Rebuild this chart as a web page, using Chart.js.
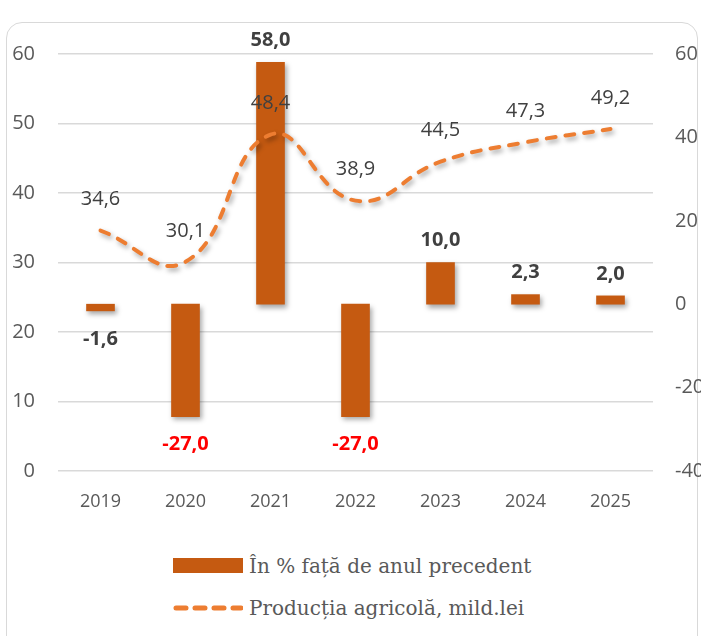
<!DOCTYPE html>
<html>
<head>
<meta charset="utf-8">
<script src="https://cdn.jsdelivr.net/npm/chart.js@4"></script>
<style>
    body { margin: 0; background: #fff; }
    .cadru {
        position: absolute; left: 6px; top: 22px; width: 692px; height: 700px;
        border: 1.5px solid #d9d9d9; border-radius: 16px; box-sizing: border-box;
    }
    #grafic { position: absolute; left: 0; top: 0; }
    .legenda {
        position: absolute; left: 173px; top: 545px;
        font-family: "DejaVu Serif", serif; font-size: 20px; color: #595959;
    }
    .legenda-item { display: flex; align-items: center; height: 42px; }
    .legenda-item svg { margin-right: 6px; }
</style>
</head>
<body>
<div class="cadru"></div>
<canvas id="grafic" width="701" height="520"></canvas>
<div class="legenda" id="legenda"></div>
<script>
const ani = ["2019", "2020", "2021", "2022", "2023", "2024", "2025"]
const procente = [-1.6, -27.0, 58.0, -27.0, 10.0, 2.3, 2.0]
const productie = [34.6, 30.1, 48.4, 38.9, 44.5, 47.3, 49.2]
const ticksStanga = [0, 10, 20, 30, 40, 50, 60]
const ticksDreapta = [-40, -20, 0, 20, 40, 60]

const culoareBara = "#C55A11"
const culoareLinie = "#ED7D31"

function formatare(v) {
    return v.toFixed(1).replace(".", ",")
}

// umbra sub bare si linie
const umbra = {
    id: "umbra",
    beforeDatasetDraw(chart) {
        const ctx = chart.ctx
        ctx.save()
        ctx.shadowColor = "rgba(0,0,0,0.35)"
        ctx.shadowBlur = 5
        ctx.shadowOffsetX = 2
        ctx.shadowOffsetY = 3
    },
    afterDatasetDraw(chart) {
        chart.ctx.restore()
    }
}

// etichetele valorilor
const etichete = {
    id: "etichete",
    afterDatasetsDraw(chart) {
        const ctx = chart.ctx
        ctx.save()
        ctx.textAlign = "center"
        ctx.textBaseline = "middle"

        const metaBare = chart.getDatasetMeta(0)
        ctx.font = "bold 20px 'Open Sans'"
        metaBare.data.forEach((bara, i) => {
            const v = procente[i]
            ctx.fillStyle = v < -10 ? "#FF0000" : "#404040"
            const y = v >= 0 ? bara.y - 22 : bara.y + 28
            ctx.fillText(formatare(v), bara.x, y)
        })

        const metaLinie = chart.getDatasetMeta(1)
        ctx.font = "20px 'Open Sans'"
        ctx.fillStyle = "#404040"
        metaLinie.data.forEach((punct, i) => {
            ctx.fillText(formatare(productie[i]), punct.x, punct.y - 31)
        })
        ctx.restore()
    }
}

const data = {
    labels: ani,
    datasets: [{
        type: "bar",
        label: "În % față de anul precedent",
        data: procente,
        backgroundColor: culoareBara,
        barThickness: 28,
        yAxisID: "yDreapta",
        order: 1
    }, {
        type: "line",
        label: "Producția agricolă, mild.lei",
        data: productie,
        borderColor: culoareLinie,
        borderWidth: 4,
        borderDash: [9, 10],
        borderCapStyle: "round",
        tension: 0.45,
        pointRadius: 0,
        yAxisID: "yStanga",
        order: 0
    }]
}

const config = {
    type: "bar",
    data: data,
    options: {
        responsive: false,
        animation: false,
        layout: { padding: { top: 54, left: 0, right: 0, bottom: 0 } },
        plugins: { legend: { display: false }, tooltip: { enabled: false } },
        scales: {
            x: {
                grid: { display: false },
                border: { display: false },
                ticks: { color: "#595959", font: { family: "'Open Sans'", size: 18 }, padding: 12 },
                afterFit(scale) { scale.height = 49 }
            },
            yStanga: {
                position: "left",
                min: 0,
                max: 60,
                afterBuildTicks(scale) { scale.ticks = ticksStanga.map(v => ({ value: v })) },
                grid: { color: "#d9d9d9", lineWidth: 1.5, drawTicks: false },
                border: { display: false },
                ticks: { color: "#595959", font: { family: "'Open Sans'", size: 20 }, padding: 23 },
                afterFit(scale) { scale.width = 58 }
            },
            yDreapta: {
                position: "right",
                min: -40,
                max: 60,
                afterBuildTicks(scale) { scale.ticks = ticksDreapta.map(v => ({ value: v })) },
                grid: { display: false, drawTicks: false },
                border: { display: false },
                ticks: { color: "#595959", font: { family: "'Open Sans'", size: 20 }, padding: 22 },
                afterFit(scale) { scale.width = 48 }
            }
        }
    },
    plugins: [umbra, etichete]
}

const grafic = new Chart(document.querySelector("#grafic"), config)

// legenda pe verticala, construita din seturile de date
const legenda = document.querySelector("#legenda")
for (const ds of [grafic.data.datasets[0], grafic.data.datasets[1]]) {
    const item = document.createElement("div")
    item.className = "legenda-item"
    let simbol
    if (ds.type === "bar") {
        simbol = `<svg width="70" height="16"><rect x="0" y="0" width="70" height="15" fill="${ds.backgroundColor}"/></svg>`
    } else {
        simbol = `<svg width="70" height="16"><line x1="3" y1="8" x2="68" y2="8" stroke="${ds.borderColor}" stroke-width="5" stroke-linecap="round" stroke-dasharray="10 9"/></svg>`
    }
    item.innerHTML = simbol + `<span>${ds.label}</span>`
    legenda.appendChild(item)
}
</script>
</body>
</html>
